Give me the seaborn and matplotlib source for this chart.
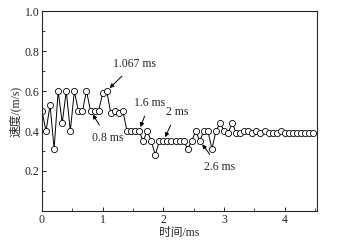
import numpy as np
import pandas as pd
import matplotlib
matplotlib.use("Agg")
import matplotlib.pyplot as plt
from matplotlib.ticker import MultipleLocator
import seaborn as sns

# time step is 1/15 ms (1.067 ms = 16 steps)
n_points = 68
speed = [0.50, 0.40, 0.53, 0.31, 0.60, 0.44, 0.60, 0.40, 0.60, 0.50,
         0.50, 0.60, 0.50, 0.50, 0.50, 0.59, 0.60, 0.49, 0.50, 0.49,
         0.50, 0.40, 0.40, 0.40, 0.40, 0.35, 0.40, 0.35, 0.28, 0.35,
         0.35, 0.35, 0.35, 0.35, 0.35, 0.35, 0.31, 0.35, 0.40, 0.35,
         0.40, 0.40, 0.31, 0.40, 0.44, 0.40, 0.39, 0.44, 0.39, 0.39,
         0.40, 0.40, 0.39, 0.40, 0.39, 0.40, 0.39, 0.39, 0.39, 0.40,
         0.39, 0.39, 0.39, 0.39, 0.39, 0.39, 0.39, 0.39]
time = [i / 15 for i in range(n_points)]

notes = ["0.8 ms", "1.067 ms", "1.6 ms", "2 ms", "2.6 ms"]
note_idx = [12, 16, 24, 30, 39]
note_text_pos = [(1.08, 0.365), (1.52, 0.735), (1.77, 0.54), (2.22, 0.495), (2.92, 0.22)]

df = pd.DataFrame({"time": time, "speed": speed})

sns.set_style("ticks")
plt.rcParams["font.family"] = ["Liberation Serif", "Noto Sans CJK SC"]
plt.rcParams["xtick.direction"] = "in"
plt.rcParams["ytick.direction"] = "in"

fig = plt.figure(figsize=(3.43, 2.43), dpi=100)
ax = fig.add_axes([0.1224, 0.1317, 0.8016, 0.823])

sns.lineplot(data=df, x="time", y="speed", ax=ax, color="black", lw=0.7,
             marker="o", markersize=4.4, markerfacecolor="white",
             markeredgecolor="black", markeredgewidth=0.6)

for txt, idx, pos in zip(notes, note_idx, note_text_pos):
    ax.annotate(txt, xy=(time[idx], speed[idx]), xytext=pos,
                fontsize=8.5, ha="center", va="center",
                arrowprops=dict(arrowstyle="-|>", color="black", lw=0.7,
                                mutation_scale=6, shrinkA=3, shrinkB=3))

ax.set_xlim(0, 4.53)
ax.set_ylim(0, 1.0)
ax.xaxis.set_major_locator(MultipleLocator(1))
ax.xaxis.set_minor_locator(MultipleLocator(0.5))
ax.yaxis.set_major_locator(MultipleLocator(0.2))
ax.yaxis.set_minor_locator(MultipleLocator(0.1))
ax.set_yticks([0.2, 0.4, 0.6, 0.8, 1.0])
ax.set_yticklabels(["0.2", "0.4", "0.6", "0.8", "1.0"])
ax.tick_params(which="major", length=3, width=0.7, labelsize=8.5, pad=2)
ax.tick_params(which="minor", length=2, width=0.6)
for s in ax.spines.values():
    s.set_linewidth(0.8)

ax.set_xlabel("时间/ms", fontsize=8.5, labelpad=1)
ax.set_ylabel("速度/(m/s)", fontsize=8.5, labelpad=2)

fig.savefig("out.png", dpi=100)
